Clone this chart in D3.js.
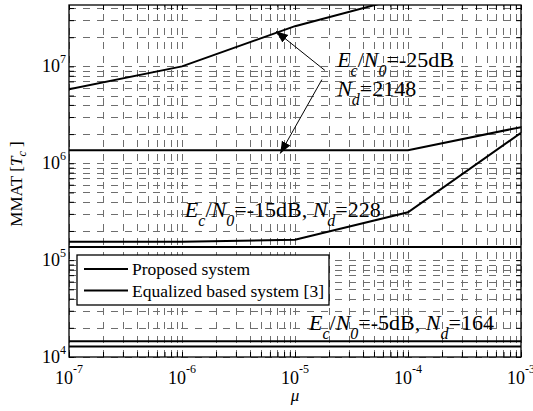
<!DOCTYPE html>
<html>
<head>
<meta charset="utf-8">
<script src="https://cdn.jsdelivr.net/npm/d3@7"></script>
<style>
  body { margin: 0; background: #fff; }
  text { font-family: "Liberation Serif", "Times New Roman", serif; fill: #000; }
</style>
</head>
<body>
<div id="chart"></div>
<script>
// step sizes on the x axis
const mu = [1e-7, 1e-6, 1e-5, 1e-4, 1e-3];

// MMAT [Tc], one array per curve
const eq25 = [5.8e6, 1.0e7, 2.6e7, 5.3e7, 1.2e8];
const prop25 = [1.36e6, 1.36e6, 1.36e6, 1.36e6, 2.36e6];
const eq15 = [1.55e5, 1.55e5, 1.62e5, 3.12e5, 2.06e6];
const prop15 = [1.37e5, 1.37e5, 1.37e5, 1.37e5, 1.37e5];
const eq5 = [1.45e4, 1.45e4, 1.45e4, 1.45e4, 1.45e4];
const prop5 = [1.28e4, 1.28e4, 1.28e4, 1.28e4, 1.28e4];

const series = [eq25, prop25, eq15, prop15, eq5, prop5];

const xMajor = [-7, -6, -5, -4, -3];
const yMajor = [4, 5, 6, 7];

const legendLabels = ['Proposed system', 'Equalized based system [3]'];

const width = 533, height = 411;
const margin = { top: 5, right: 12, bottom: 54, left: 69 };

const svg = d3.select('#chart').append('svg')
  .attr('width', width)
  .attr('height', height);

const x = d3.scaleLog()
  .domain([1e-7, 1e-3])
  .range([margin.left, width - margin.right]);

const y = d3.scaleLog()
  .domain([1e4, 4.3e7])
  .range([height - margin.bottom, margin.top]);

const [x0, x1] = x.range();
const [y0, y1] = y.range();

svg.append('defs').append('clipPath').attr('id', 'plot')
  .append('rect')
  .attr('x', x0).attr('y', y1)
  .attr('width', x1 - x0).attr('height', y0 - y1);

// grid, major and minor
const grid = svg.append('g')
  .attr('stroke', '#6e6e6e')
  .attr('stroke-width', 1)
  .attr('stroke-dasharray', '7,7');

grid.selectAll('.gx')
  .data(x.ticks())
  .enter().append('line')
  .attr('x1', d => Math.round(x(d)) + 0.5)
  .attr('x2', d => Math.round(x(d)) + 0.5)
  .attr('y1', y0).attr('y2', y1);

grid.selectAll('.gy')
  .data(y.ticks())
  .enter().append('line')
  .attr('y1', d => Math.round(y(d)) + 0.5)
  .attr('y2', d => Math.round(y(d)) + 0.5)
  .attr('x1', x0).attr('x2', x1);

// ticks on all four sides, pointing in
const tick = 5;
const axisStyle = g => {
  g.select('.domain').remove();
  g.selectAll('.tick line').attr('stroke', '#000').attr('stroke-width', 1);
  g.selectAll('.tick text').remove();
};

svg.append('g')
  .attr('transform', `translate(0,${y0})`)
  .call(d3.axisBottom(x).tickSizeInner(-tick).tickSizeOuter(0))
  .call(axisStyle);

svg.append('g')
  .attr('transform', `translate(0,${y1})`)
  .call(d3.axisTop(x).tickSizeInner(-tick).tickSizeOuter(0))
  .call(axisStyle);

svg.append('g')
  .attr('transform', `translate(${x0},0)`)
  .call(d3.axisLeft(y).tickSizeInner(-tick).tickSizeOuter(0))
  .call(axisStyle);

svg.append('g')
  .attr('transform', `translate(${x1},0)`)
  .call(d3.axisRight(y).tickSizeInner(-tick).tickSizeOuter(0))
  .call(axisStyle);

// data lines
const line = d3.line()
  .x((d, i) => x(mu[i]))
  .y(d => y(d));

svg.append('g')
  .attr('clip-path', 'url(#plot)')
  .selectAll('path')
  .data(series)
  .enter().append('path')
  .attr('fill', 'none')
  .attr('stroke', '#000')
  .attr('stroke-width', 2)
  .attr('d', line);

// box
svg.append('rect')
  .attr('x', x0).attr('y', y1)
  .attr('width', x1 - x0).attr('height', y0 - y1)
  .attr('fill', 'none')
  .attr('stroke', '#000')
  .attr('stroke-width', 1.3);

// tick labels
const xl = svg.append('g').selectAll('text')
  .data(xMajor)
  .enter().append('text')
  .attr('x', d => x(Math.pow(10, d)))
  .attr('y', y0 + 27)
  .attr('text-anchor', 'middle')
  .style('font-size', '18px');
xl.append('tspan').text('10');
xl.append('tspan').attr('dy', -11).style('font-size', '12px').text(d => '-' + Math.abs(d));

const yl = svg.append('g').selectAll('text')
  .data(yMajor)
  .enter().append('text')
  .attr('x', x0 - 3)
  .attr('y', d => y(Math.pow(10, d)) + 6)
  .attr('text-anchor', 'end')
  .style('font-size', '18px');
yl.append('tspan').text('10');
yl.append('tspan').attr('dy', -9).style('font-size', '12px').text(d => d);

// axis titles
svg.append('text')
  .attr('x', x(1e-5))
  .attr('y', 401)
  .attr('text-anchor', 'middle')
  .style('font-size', '17px')
  .style('font-style', 'italic')
  .text('\u03bc');

const yt = svg.append('text')
  .attr('transform', `translate(22,${(y0 + y1) / 2 + 3}) rotate(-90)`)
  .attr('text-anchor', 'middle')
  .style('font-size', '17px');
yt.append('tspan').text('MMAT [');
yt.append('tspan').style('font-style', 'italic').text('T');
yt.append('tspan').attr('dy', 4).style('font-style', 'italic').style('font-size', '12px').text('c');
yt.append('tspan').attr('dy', -4).text(' ]');

// annotations: [mu, MMAT] of the text baseline start
const annotations = [
  { at: [2.36e-5, 9.75e6], parts: [['E', 'i'], ['c', 's'], ['/', ''], ['N', 'i'], ['0', 's'], ['=-25dB', '']] },
  { at: [2.36e-5, 4.89e6], parts: [['N', 'i'], ['d', 's'], ['=2148', '']] },
  { at: [1.06e-6, 2.8e5], parts: [['E', 'i'], ['c', 's'], ['/', ''], ['N', 'i'], ['0', 's'], ['=-15dB, ', ''], ['N', 'i'], ['d', 's'], ['=228', '']] },
  { at: [1.33e-5, 1.9e4], parts: [['E', 'i'], ['c', 's'], ['/', ''], ['N', 'i'], ['0', 's'], ['=-5dB, ', ''], ['N', 'i'], ['d', 's'], ['=164', '']] }
];

annotations.forEach(a => {
  const t = svg.append('text')
    .attr('x', x(a.at[0]))
    .attr('y', y(a.at[1]))
    .style('font-size', '22px')
    .style('white-space', 'pre');
  let down = false;
  a.parts.forEach(([s, k]) => {
    const sp = t.append('tspan').text(s);
    if (k === 's') {
      sp.attr('dy', down ? 0 : 9).style('font-size', '16px').style('font-style', 'italic');
      down = true;
    } else {
      if (down) sp.attr('dy', -9);
      down = false;
      if (k === 'i') sp.style('font-style', 'italic');
    }
  });
});

// arrows: [from, to] in data units
const arrows = [
  [[1.84e-5, 9.08e6], [6.8e-6, 2.3e7]],
  [[1.73e-5, 7.3e6], [7.4e-6, 1.26e6]]
];

svg.append('defs').append('marker')
  .attr('id', 'head')
  .attr('viewBox', '0 0 10 10')
  .attr('refX', 10).attr('refY', 5)
  .attr('markerWidth', 12).attr('markerHeight', 12)
  .attr('markerUnits', 'userSpaceOnUse')
  .attr('orient', 'auto')
  .append('path')
  .attr('d', 'M0,1 L10,5 L0,9 Z')
  .attr('fill', '#000');

svg.append('g').selectAll('line')
  .data(arrows)
  .enter().append('line')
  .attr('x1', d => x(d[0][0])).attr('y1', d => y(d[0][1]))
  .attr('x2', d => x(d[1][0])).attr('y2', d => y(d[1][1]))
  .attr('stroke', '#000')
  .attr('stroke-width', 1)
  .attr('marker-end', 'url(#head)');

// legend
const lg = svg.append('g');
lg.append('rect')
  .attr('x', 77).attr('y', 255)
  .attr('width', 252).attr('height', 50)
  .attr('fill', '#fff')
  .attr('stroke', '#000')
  .attr('stroke-width', 1.3);

const items = lg.selectAll('.item')
  .data(legendLabels)
  .enter().append('g')
  .attr('transform', (d, i) => `translate(0,${269 + i * 21.5})`);

items.append('line')
  .attr('x1', 84).attr('x2', 128)
  .attr('stroke', '#000')
  .attr('stroke-width', 2);

items.append('text')
  .attr('x', 132)
  .attr('y', 6)
  .style('font-size', '17.5px')
  .text(d => d);
</script>
</body>
</html>
